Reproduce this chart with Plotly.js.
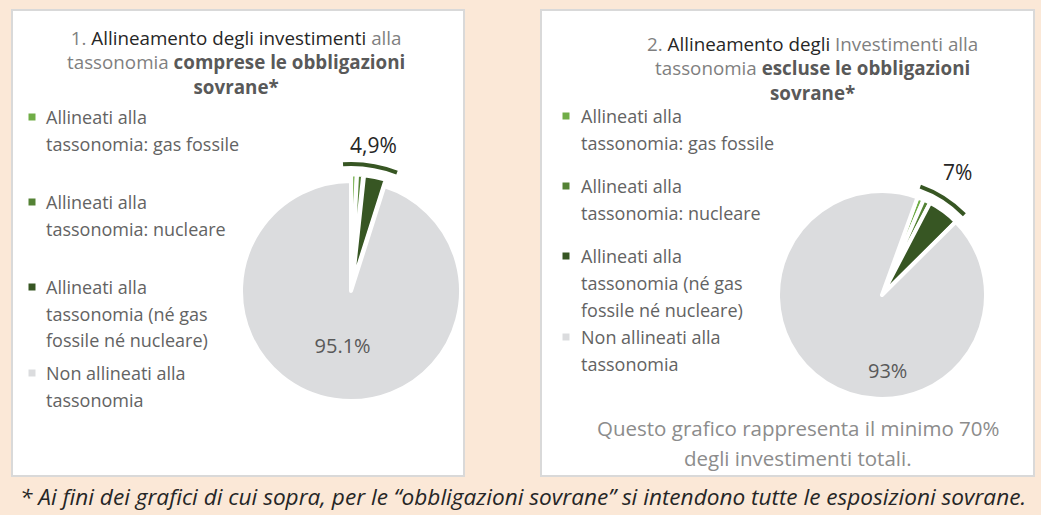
<!DOCTYPE html>
<html>
<head>
<meta charset="utf-8">
<script src="https://cdn.plot.ly/plotly-3.0.1.min.js"></script>
<style>
html,body{margin:0;padding:0;background:#FBE8D7;}
#chart{width:1041px;height:515px;}
</style>
</head>
<body>
<div id="chart"></div>
<script>
// ---------------- DATA ----------------
const categories = [
  'Allineati alla<br>tassonomia: gas fossile',
  'Allineati alla<br>tassonomia: nucleare',
  'Allineati alla<br>tassonomia (né gas<br>fossile né nucleare)',
  'Non allineati alla<br>tassonomia'
];
const valuesInclSovereign = [0.8, 0.9, 3.2, 95.1];
const valuesExclSovereign = [1.0, 1.1, 4.9, 93.0];
const alignedTotals = [4.9, 7.0];
const alignedTotalLabels = ['4,9%', '7%'];
const nonAlignedLabels = ['95.1%', '93%'];
const chartTitles = [
  '<span style="color:#7f7f7f">1. </span><span style="color:#262626">Allineamento degli investimenti</span><span style="color:#7f7f7f"> alla</span><br><span style="color:#7f7f7f">tassonomia </span><span style="color:#595959"><b>comprese le obbligazioni</b></span><br><span style="color:#595959"><b>sovrane*</b></span>',
  '<span style="color:#7f7f7f">2. </span><span style="color:#262626">Allineamento degli</span><span style="color:#7f7f7f"> Investimenti alla</span><br><span style="color:#7f7f7f">tassonomia </span><span style="color:#595959"><b>escluse le obbligazioni</b></span><br><span style="color:#595959"><b>sovrane*</b></span>'
];
const noteLines = ['Questo grafico rappresenta il minimo 70%', 'degli investimenti totali.'];
const footnote = '* Ai fini dei grafici di cui sopra, per le \u201Cobbligazioni sovrane\u201D si intendono tutte le esposizioni sovrane.';

// ---------------- STYLE / LAYOUT ----------------
const W = 1041, H = 515;
const FONT = '"Open Sans", sans-serif';
const sliceColors = ['#70AD47', '#548235', '#375623', '#DBDCDE'];
const arcColor = '#375623';
const px = x => x / W;
const py = y => 1 - y / H;

const pies = [
  {values: valuesInclSovereign, cx: 351, cy: 291, r: 110, pull: 0.06, rotation: 0,
   arcR: 129, arcPad: 1.0, totalPos: {x: 373, y: 145}, innerPos: null},
  {values: valuesExclSovereign, cx: 882, cy: 295, r: 104, pull: 0.0, rotation: 20,
   arcR: 117, arcPad: 0.15, totalPos: {x: 957, y: 172}, innerPos: {x: 887, y: 370}}
];
const panels = [{x0: 12, x1: 464, y0: 10, y1: 476}, {x0: 541, x1: 1034, y0: 10, y1: 476}];
const titlePos = [{x: 236, y: 63}, {x: 812, y: 69}];
const legends = [
  {markerX: 32, textX: 44, itemY: [117, 202, 287, 373], lineGap: 26.7},
  {markerX: 566, textX: 579, itemY: [116, 186, 256, 337], lineGap: 27}
];

const data = [];
const annotations = [];
pies.forEach((p, k) => {
  const half = p.r * (1 + p.pull);
  data.push({
    type: 'pie', labels: categories, values: p.values, sort: false,
    direction: 'clockwise', rotation: p.rotation,
    marker: {colors: sliceColors, line: {color: '#ffffff', width: 4}},
    pull: p.values.map((v, i) => i < 3 ? p.pull : 0),
    domain: {x: [px(p.cx - half), px(p.cx + half)], y: [py(p.cy + half), py(p.cy - half)]},
    text: p.values.map((v, i) => (i === 3 && !p.innerPos) ? nonAlignedLabels[k] : ''),
    textinfo: 'text', textposition: 'inside', insidetextorientation: 'horizontal',
    insidetextfont: {family: FONT, size: 20, color: '#595959'},
    showlegend: false, hoverinfo: 'label+value'
  });
  if (p.innerPos) annotations.push({text: nonAlignedLabels[k], xref: 'paper', yref: 'paper',
    x: px(p.innerPos.x), y: py(p.innerPos.y), xanchor: 'center', yanchor: 'middle', showarrow: false,
    font: {family: FONT, size: 20, color: '#595959'}});
  // callout arc around the aligned share
  const t = alignedTotals[k] + 2 * p.arcPad;
  const thick = 4;
  data.push({
    type: 'pie', values: [t, 100 - t], labels: ['aligned', 'rest'], sort: false,
    direction: 'clockwise', rotation: p.rotation - p.arcPad * 3.6,
    hole: (p.arcR - thick) / p.arcR,
    marker: {colors: [arcColor, 'rgba(0,0,0,0)'], line: {width: 0}},
    domain: {x: [px(p.cx - p.arcR), px(p.cx + p.arcR)], y: [py(p.cy + p.arcR), py(p.cy - p.arcR)]},
    textinfo: 'none', showlegend: false, hoverinfo: 'skip'
  });
  annotations.push({text: alignedTotalLabels[k], xref: 'paper', yref: 'paper',
    x: px(p.totalPos.x), y: py(p.totalPos.y), xanchor: 'center', yanchor: 'middle', showarrow: false,
    font: {family: FONT, size: 21, color: '#262626'}});
});

const shapes = [];
panels.forEach(b => shapes.push({type: 'rect', xref: 'paper', yref: 'paper', layer: 'below',
  x0: px(b.x0), x1: px(b.x1), y0: py(b.y1), y1: py(b.y0),
  fillcolor: '#ffffff', line: {color: '#D9D9D9', width: 2}}));

chartTitles.forEach((t, k) => annotations.push({text: t, xref: 'paper', yref: 'paper',
  x: px(titlePos[k].x), y: py(titlePos[k].y), xanchor: 'center', yanchor: 'middle',
  align: 'center', showarrow: false, font: {family: FONT, size: 18.8, color: '#7f7f7f'}}));

legends.forEach(L => {
  categories.forEach((c, i) => {
    const m = 3.5;
    shapes.push({type: 'rect', xref: 'paper', yref: 'paper',
      x0: px(L.markerX - m), x1: px(L.markerX + m), y0: py(L.itemY[i] + m), y1: py(L.itemY[i] - m),
      fillcolor: sliceColors[i], line: {width: 0}});
    c.split('<br>').forEach((line, j) => annotations.push({text: line, xref: 'paper', yref: 'paper',
      x: px(L.textX), y: py(L.itemY[i] + j * L.lineGap), xanchor: 'left', yanchor: 'middle',
      showarrow: false, font: {family: FONT, size: 18, color: '#636363'}}));
  });
});

noteLines.forEach((t, j) => annotations.push({text: t, xref: 'paper', yref: 'paper',
  x: px(798), y: py(428 + j * 30), xanchor: 'center', yanchor: 'middle', showarrow: false,
  font: {family: FONT, size: 20.5, color: '#8c8c8c'}}));

annotations.push({text: '<i>' + footnote + '</i>', xref: 'paper', yref: 'paper',
  x: px(18), y: py(496), xanchor: 'left', yanchor: 'middle', showarrow: false,
  font: {family: FONT, size: 22.6, color: '#262626'}});

const layout = {
  width: W, height: H, margin: {l: 0, r: 0, t: 0, b: 0},
  paper_bgcolor: '#FBE8D7', plot_bgcolor: '#FBE8D7',
  showlegend: false, shapes, annotations,
  font: {family: FONT}
};
Plotly.newPlot('chart', data, layout, {displayModeBar: false, staticPlot: true});
</script>
</body>
</html>
